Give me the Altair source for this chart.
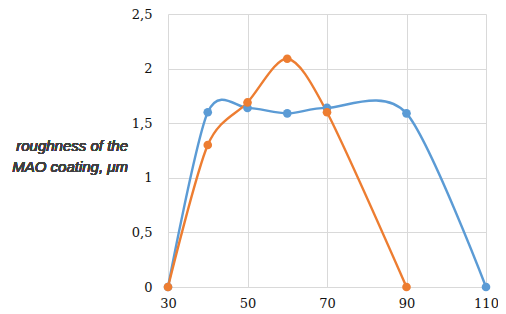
import altair as alt
import pandas as pd

# data
x_blue = [30, 40, 50, 60, 70, 90, 110]
y_blue = [0, 1.6, 1.64, 1.59, 1.64, 1.59, 0]
x_orange = [30, 40, 50, 60, 70, 90]
y_orange = [0, 1.3, 1.69, 2.09, 1.6, 0]
x_ticks = [30, 50, 70, 90, 110]
y_ticks = [0, 0.5, 1, 1.5, 2, 2.5]
series_names = ["blue", "orange"]
series_colors = ["#5b9bd5", "#ed7d31"]
title_lines = ["roughness of the", "MAO coating, μm"]

rows = []
for xv, yv in zip(x_blue, y_blue):
    rows.append({"x": xv, "y": yv, "s": series_names[0]})
for xv, yv in zip(x_orange, y_orange):
    rows.append({"x": xv, "y": yv, "s": series_names[1]})
df = pd.DataFrame(rows)

xs = alt.Scale(domain=[30, 110], nice=False, zero=False)
ys = alt.Scale(domain=[0, 2.5], nice=False)
cs = alt.Scale(domain=series_names, range=series_colors)

serif = "DejaVu Serif"
xaxis = alt.Axis(values=x_ticks, grid=True, gridColor="#d9d9d9", domain=False,
                 ticks=False, labelFont=serif, labelFontSize=13, labelFlush=False,
                 labelColor="#111111", labelPadding=10, title=None)
yaxis = alt.Axis(values=y_ticks, grid=True, gridColor="#d9d9d9", domain=False,
                 ticks=False, labelFont=serif, labelFontSize=13, labelFlush=False,
                 labelColor="#111111", labelPadding=16, title=None,
                 labelExpr="replace(toString(datum.value), '.', ',')")

base = alt.Chart(df).encode(
    x=alt.X("x:Q", scale=xs, axis=xaxis),
    y=alt.Y("y:Q", scale=ys, axis=yaxis),
    color=alt.Color("s:N", scale=cs, legend=None),
    detail="s:N",
)

lines = base.mark_line(interpolate="cardinal", tension=0.15, strokeWidth=2.4)
points = base.mark_circle(size=75, opacity=1)

t1 = alt.Chart(df).mark_text(align="right", baseline="middle", font="Liberation Sans",
                             fontStyle="italic", fontSize=15, color="#404040").encode(
    x=alt.value(-40), y=alt.value(132), text=alt.value(title_lines[0]))
t2 = alt.Chart(df).mark_text(align="right", baseline="middle", font="Liberation Sans",
                             fontStyle="italic", fontSize=15, color="#404040").encode(
    x=alt.value(-40), y=alt.value(153), text=alt.value(title_lines[1]))

chart = alt.layer(lines, points, t1, t2).properties(
    width=318, height=273,
    autosize=alt.AutoSizeParams(type="none"),
    padding={"left": 160, "top": 6, "right": 12, "bottom": 26},
).configure_view(stroke=None)

chart.save("out.html", embed_options={"renderer": "svg", "actions": False})
